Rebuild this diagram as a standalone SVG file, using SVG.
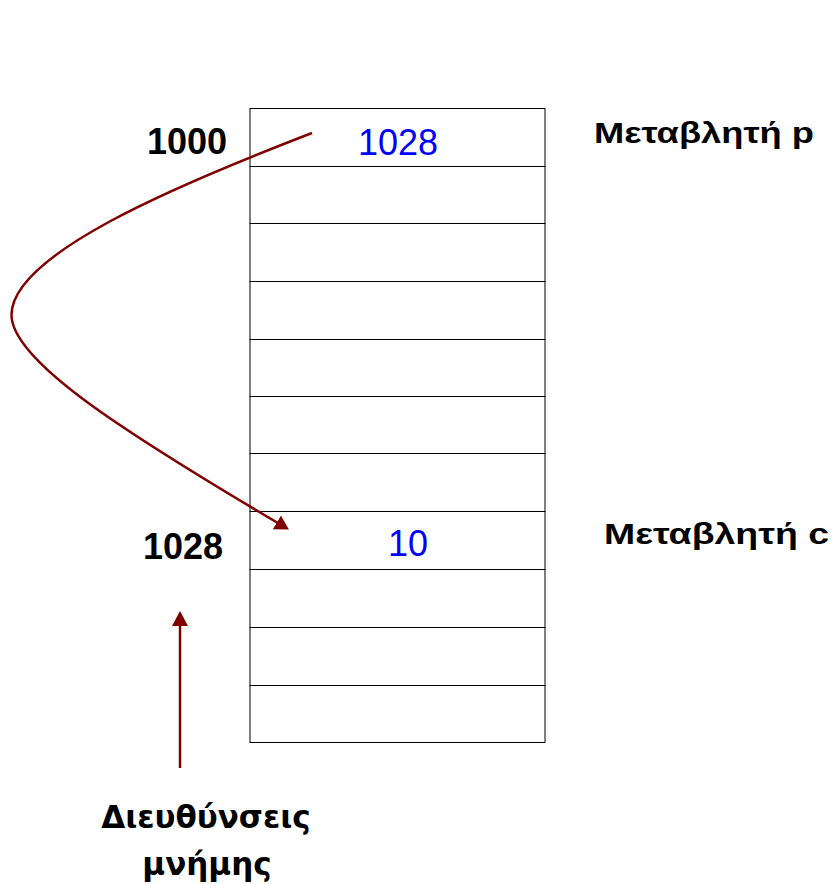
<svg xmlns="http://www.w3.org/2000/svg" width="833" height="884" viewBox="0 0 833 884">
<style>
.cell{fill:#fff;stroke:#000;stroke-width:1}
.addr{font-family:"Liberation Sans",Arial,sans-serif;font-weight:bold;font-size:36px;fill:#000}
.val{font-family:"Liberation Sans",Arial,sans-serif;font-size:36px;fill:#0000ff}
.var{font-family:"Liberation Sans",Arial,sans-serif;font-weight:bold;font-size:29px;fill:#000}
.cap{font-family:"DejaVu Sans","Liberation Sans",sans-serif;font-weight:bold;font-size:31px;fill:#000}
.conn{fill:none;stroke:#800000;stroke-width:2.5}
</style>
<defs>
<marker id="headA" markerUnits="userSpaceOnUse" viewBox="0 0 14 16" refX="9" refY="8" markerWidth="14" markerHeight="16" orient="auto">
<path d="M0,0 L14,8 L0,16 z" fill="#800000"/>
</marker>
<marker id="headB" markerUnits="userSpaceOnUse" viewBox="0 0 15 16" refX="11" refY="8" markerWidth="15" markerHeight="16" orient="auto">
<path d="M0,0 L15,8 L0,16 z" fill="#800000"/>
</marker>
</defs>
<rect width="833" height="884" fill="#fff"/>
<g id="memory">
<g id="cell1"><rect class="cell" x="250" y="108.5" width="295" height="58"/></g>
<g id="cell2"><rect class="cell" x="250" y="166.5" width="295" height="57"/></g>
<g id="cell3"><rect class="cell" x="250" y="223.5" width="295" height="58"/></g>
<g id="cell4"><rect class="cell" x="250" y="281.5" width="295" height="58"/></g>
<g id="cell5"><rect class="cell" x="250" y="339.5" width="295" height="57"/></g>
<g id="cell6"><rect class="cell" x="250" y="396.5" width="295" height="57"/></g>
<g id="cell7"><rect class="cell" x="250" y="453.5" width="295" height="58"/></g>
<g id="cell8"><rect class="cell" x="250" y="511.5" width="295" height="58"/></g>
<g id="cell9"><rect class="cell" x="250" y="569.5" width="295" height="58"/></g>
<g id="cell10"><rect class="cell" x="250" y="627.5" width="295" height="58"/></g>
<g id="cell11"><rect class="cell" x="250" y="685.5" width="295" height="57"/></g>
</g>
<g id="labels">
<g id="addr1000"><text class="addr" x="227" y="154" text-anchor="end">1000</text></g>
<g id="val1028"><text class="val" x="398" y="155" text-anchor="middle">1028</text></g>
<g id="varP"><text class="var" x="594" y="143" textLength="220" lengthAdjust="spacingAndGlyphs">Μεταβλητή p</text></g>
<g id="addr1028"><text class="addr" x="183" y="559" text-anchor="middle">1028</text></g>
<g id="val10"><text class="val" x="408" y="556" text-anchor="middle">10</text></g>
<g id="varC"><text class="var" x="604" y="544" textLength="225" lengthAdjust="spacingAndGlyphs">Μεταβλητή c</text></g>
<g id="caption"><text class="cap" x="206" y="828" text-anchor="middle">Διευθύνσεις</text><text class="cap" x="207" y="875" text-anchor="middle">μνήμης</text></g>
</g>
<g id="connectors">
<path class="conn" d="M312,133 C172,187 11.5,255 11.5,315 C11.5,360 120,430 284.6,527" marker-end="url(#headA)"/>
<path class="conn" d="M180,768 L180,615" marker-end="url(#headB)"/>
</g>
</svg>
